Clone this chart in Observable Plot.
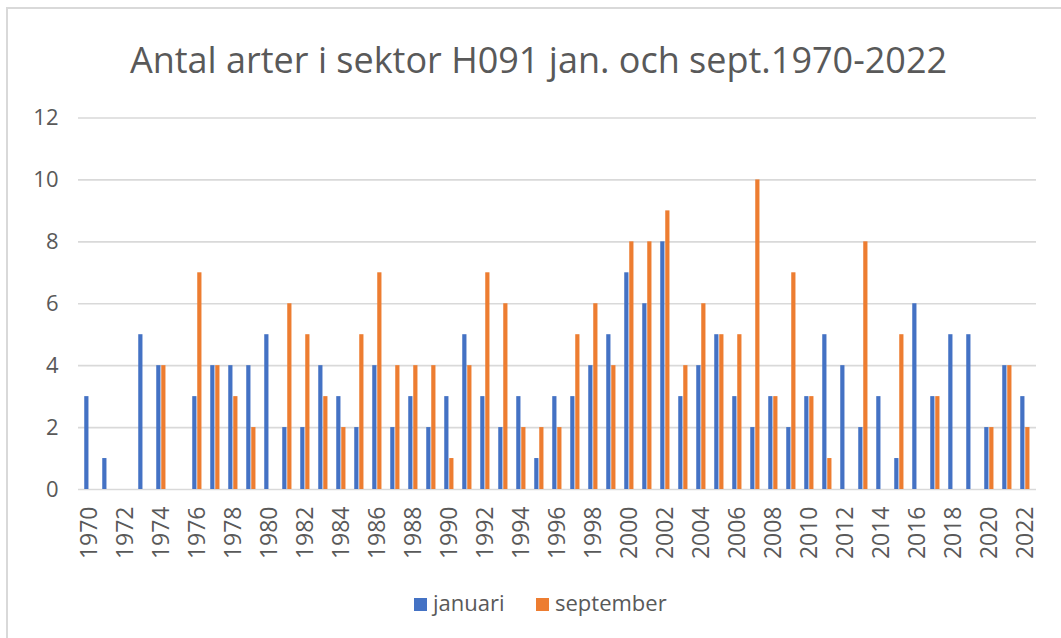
<!DOCTYPE html>
<html>
<head>
<meta charset="utf-8">
<script src="https://cdn.jsdelivr.net/npm/d3@7"></script>
<script src="https://cdn.jsdelivr.net/npm/@observablehq/plot@0.6"></script>
<style>
  body { margin: 0; background: #fff; }
  #wrap { position: relative; width: 1061px; height: 638px; overflow: hidden; background: #fff; font-family: "Open Sans", sans-serif; color: #595959; }
  #frame { position: absolute; left: 6px; top: 7px; width: 1200px; height: 800px; border-top: 2px solid #d9d9d9; border-left: 2px solid #d9d9d9; }
  #title { position: absolute; left: 16px; width: 1045px; top: 42px; text-align: center; font-size: 36px; line-height: 36px; white-space: nowrap; }
  #chart { position: absolute; left: 0; top: 100px; }
  .sw { position: absolute; width: 13px; height: 13px; top: 598px; }
  .lt { position: absolute; top: 591px; font-size: 22px; line-height: 22px; }
</style>
</head>
<body>
<div id="wrap">
  <div id="frame"></div>
  <div id="title">Antal arter i sektor H091 jan. och sept.1970-2022</div>
  <div id="chart"></div>
  <div class="sw" style="left:414px;background:#4472C4"></div>
  <div class="lt" style="left:433px">januari</div>
  <div class="sw" style="left:536px;background:#ED7D31"></div>
  <div class="lt" style="left:555px">september</div>
</div>
<script>
const years = [1970,1971,1972,1973,1974,1975,1976,1977,1978,1979,
  1980,1981,1982,1983,1984,1985,1986,1987,1988,1989,
  1990,1991,1992,1993,1994,1995,1996,1997,1998,1999,
  2000,2001,2002,2003,2004,2005,2006,2007,2008,2009,
  2010,2011,2012,2013,2014,2015,2016,2017,2018,2019,
  2020,2021,2022];
const januari = [3,1,0,5,4,0,3,4,4,4,
  5,2,2,4,3,2,4,2,3,2,
  3,5,3,2,3,1,3,3,4,5,
  7,6,8,3,4,5,3,2,3,2,
  3,5,4,2,3,1,6,3,5,5,
  2,4,3];
const september = [0,0,0,0,4,0,7,4,3,2,
  0,6,5,3,2,5,7,4,4,4,
  1,4,7,6,2,2,2,5,6,4,
  8,8,9,4,6,5,5,10,3,7,
  3,1,0,8,0,5,0,3,0,0,
  2,4,2];
const yTicks = [0,2,4,6,8,10,12];
const xTicks = years.filter((y, i) => i % 2 === 0);

const janData = years.map((year, i) => ({year, value: januari[i]}));
const sepData = years.map((year, i) => ({year, value: september[i]}));

const W = 1061, ML = 78, MR = 25;
const bw = (W - ML - MR) / years.length;
const half = bw / 2;

const chart = Plot.plot({
  width: W,
  height: 480,
  marginLeft: ML,
  marginRight: MR,
  marginTop: 17.5,
  marginBottom: 91,
  style: { fontFamily: "Open Sans, sans-serif", color: "#595959", background: "transparent", overflow: "visible" },
  x: { type: "band", domain: years, padding: 0, axis: null },
  y: { domain: [0, 12], axis: null },
  marks: [
    Plot.ruleY(yTicks, { stroke: "#d9d9d9", strokeWidth: 1.6 }),
    Plot.barY(janData, { x: "year", y: "value", fill: "#4472C4", insetLeft: half - 4.8, insetRight: half + 0.5 }),
    Plot.barY(sepData, { x: "year", y: "value", fill: "#ED7D31", insetLeft: half + 0.2, insetRight: half - 4.5 }),
    Plot.axisY(yTicks, { tickSize: 0, tickPadding: 20, fontSize: 22, fill: "#595959", label: null }),
    Plot.axisX(xTicks, { tickSize: 0, tickPadding: 17, tickRotate: -90, fontSize: 23, fill: "#595959", label: null, tickFormat: d => String(d) })
  ]
});
document.getElementById("chart").appendChild(chart);
</script>
</body>
</html>
